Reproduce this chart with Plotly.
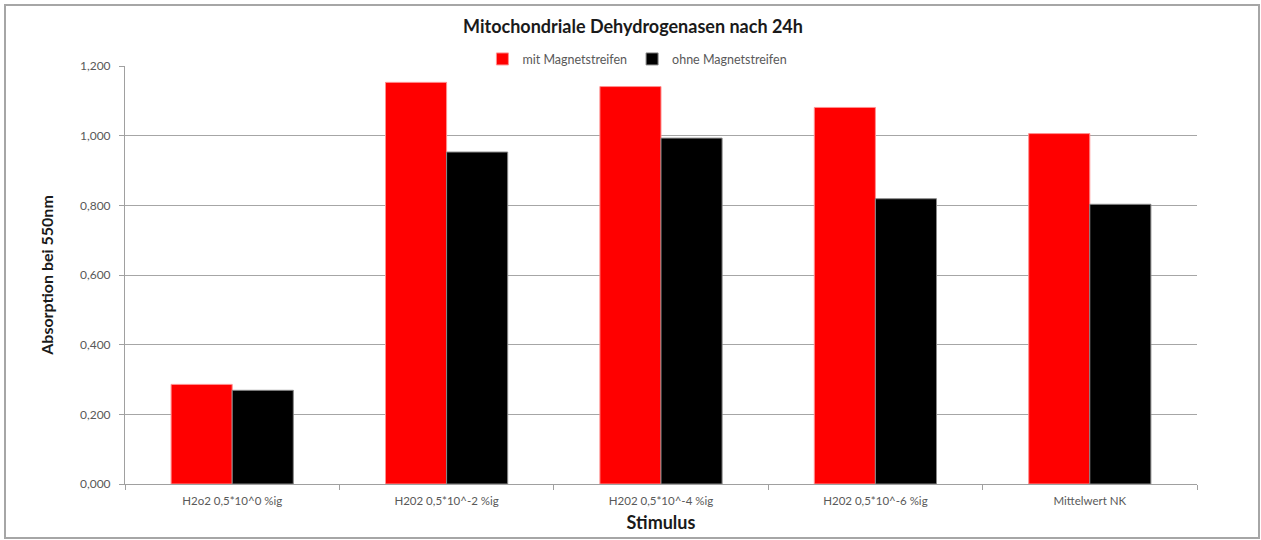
import plotly.graph_objects as go

kategorien = ["H2o2 0,5*10^0 %ig", "H202 0,5*10^-2 %ig", "H202 0,5*10^-4 %ig",
              "H202 0,5*10^-6 %ig", "Mittelwert NK"]
mit_magnet = [0.286, 1.153, 1.141, 1.081, 1.006]
ohne_magnet = [0.269, 0.953, 0.993, 0.819, 0.803]
y_ticks = [0, 0.2, 0.4, 0.6, 0.8, 1.0, 1.2]

schrift = "Lato, Calibri, sans-serif"
grau = "#595959"

fig = go.Figure()
fig.add_trace(go.Bar(x=kategorien, y=mit_magnet, name="mit Magnetstreifen",
                     marker=dict(color="#ff0000", line=dict(color="#ff9090", width=1))))
fig.add_trace(go.Bar(x=kategorien, y=ohne_magnet, name="ohne Magnetstreifen",
                     marker=dict(color="#000000", line=dict(color="#888888", width=1))))

fig.update_layout(
    width=1261, height=540,
    margin=dict(l=125, r=64, t=66, b=56),
    paper_bgcolor="white", plot_bgcolor="white",
    barmode="group", bargap=0.43, bargroupgap=0,
    separators=",.",
    font=dict(family=schrift, size=11.5, color=grau),
    title=dict(text="<b>Mitochondriale Dehydrogenasen nach 24h</b>",
               x=0.502, xanchor="center", xref="container", y=0.95, yanchor="middle",
               font=dict(family=schrift, size=18, color="#1a1a1a")),
    legend=dict(orientation="h", x=0.478, xanchor="center", y=1.016, yanchor="middle",
                font=dict(size=12.5, color=grau), bgcolor="rgba(0,0,0,0)",
                itemwidth=30, tracegroupgap=0),
    xaxis=dict(showline=True, linecolor="#a0a0a0", linewidth=1,
               ticks="outside", tickson="boundaries", ticklen=5, tickcolor="#a0a0a0",
               tickfont=dict(size=11.5, color=grau), ticklabelstandoff=6,
               title=dict(text="<b>Stimulus</b>", standoff=10,
                          font=dict(family=schrift, size=18, color="#1a1a1a"))),
    yaxis=dict(range=[0, 1.2], tickvals=y_ticks, tickformat=".3f",
               showline=True, linecolor="#a0a0a0", linewidth=1,
               ticks="outside", ticklen=5, tickcolor="#a0a0a0",
               showgrid=True, gridcolor="#a6a6a6", gridwidth=1, zeroline=False,
               tickfont=dict(size=12, color=grau), ticklabelstandoff=6,
               title=dict(text="<b>Absorption bei 550nm</b>", standoff=22,
                          font=dict(family=schrift, size=16, color="#1a1a1a"))),
)

# outer chart frame
fig.add_shape(type="rect", xref="paper", yref="paper",
              x0=(5 - 125) / 1072, x1=(1259 - 125) / 1072,
              y0=(484 - 538) / 418, y1=(484 - 5) / 418,
              line=dict(color="#a6a6a6", width=2), layer="below")

fig.write_html("out.html", config={"displayModeBar": False},
               post_script="document.body.style.margin='0px';")
